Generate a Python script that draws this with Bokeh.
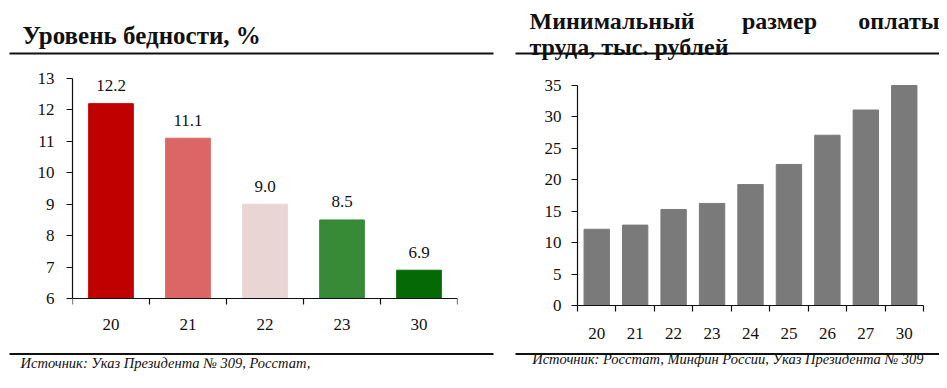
from bokeh.plotting import figure
from bokeh.models import Range1d, FixedTicker, ColumnDataSource, LinearAxis
from bokeh.layouts import column, row
from bokeh.embed import file_html
from bokeh.resources import INLINE
from bokeh.core.properties import value

# ---- data ----
poverty_years = ["20", "21", "22", "23", "30"]
poverty_values = [12.2, 11.1, 9.0, 8.5, 6.9]
poverty_labels = ["12.2", "11.1", "9.0", "8.5", "6.9"]
poverty_colors = ["#C00000", "#DC6666", "#EAD5D5", "#378B37", "#056A05"]
poverty_yticks = [6, 7, 8, 9, 10, 11, 12, 13]

mrot_years = ["20", "21", "22", "23", "24", "25", "26", "27", "30"]
mrot_values = [12.13, 12.79, 15.28, 16.24, 19.24, 22.44, 27.09, 31.1, 35.0]
mrot_yticks = [0, 5, 10, 15, 20, 25, 30, 35]

title_left = "Уровень бедности, %"
title_right_1 = ["Минимальный", "размер", "оплаты"]
title_right_2 = "труда, тыс. рублей"
source_left = "Источник: Указ Президента № 309, Росстат,"
source_right = "Источник: Росстат, Минфин России, Указ Президента № 309"

BODY = "Liberation Serif"
SERIF = value(BODY)
INK = "#111111"

W_TOTAL = 939
TOP_H = 64
BOT_Y0 = 348
BOT_H = 380 - BOT_Y0
CH_H = BOT_Y0 - TOP_H
FRAME_TOP = 78      # y of top of chart frames
FRAME_BOT = 305     # y of bottom of chart frames
LEFT_AXIS_Y = 298   # y of the left chart's category axis
RIGHT_TOP_Y = 85    # y of the right chart's top tick


def strip(h, y0):
    f = figure(width=W_TOTAL, height=h, frame_width=W_TOTAL, frame_height=h,
               output_backend="svg", toolbar_location=None, title=None,
               x_axis_location=None, y_axis_location=None,
               x_range=Range1d(0, W_TOTAL), y_range=Range1d(y0 + h, y0),
               min_border=0, min_border_left=0, min_border_right=0,
               min_border_top=0, min_border_bottom=0)
    f.grid.visible = False
    f.outline_line_color = None
    f.background_fill_color = "white"
    f.border_fill_color = "white"
    return f


# ---- top strip: titles + rules ----
top = strip(TOP_H, 0)
top.text(x=[22], y=[35], text=[title_left], text_font=SERIF, text_font_style="bold",
         text_font_size="25px", text_baseline="alphabetic", text_align="left", text_color=INK)
top.text(x=[529, 779, 939], y=[20, 20, 20], text=title_right_1, text_font=SERIF,
         text_font_style="bold", text_font_size="24px", text_baseline="alphabetic",
         text_align=["left", "center", "right"], text_color=INK)
top.text(x=[529], y=[46], text=[title_right_2], text_font=SERIF, text_font_style="bold",
         text_font_size="24px", text_baseline="alphabetic", text_align="left", text_color=INK)
top.segment(x0=[9, 515], y0=[53, 53], x1=[493, 939], y1=[53, 53],
            line_color=INK, line_width=1.8)

# ---- bottom strip: rules + sources ----
bot = strip(BOT_H, BOT_Y0)
bot.segment(x0=[9, 515], y0=[353.5, 353.5], x1=[493, 939], y1=[353.5, 353.5],
            line_color=INK, line_width=1.8)
bot.text(x=[20], y=[362], text=[source_left], text_font=SERIF, text_font_style="italic",
         text_font_size="14.5px", text_baseline="middle", text_align="left", text_color=INK)
bot.text(x=[923], y=[358], text=[source_right], text_font=SERIF, text_font_style="italic",
         text_font_size="14.5px", text_baseline="middle", text_align="right", text_color=INK)


def style_axes(p, fs, xstand, ystand):
    for ax in (p.xaxis[0], p.yaxis[0]):
        ax.axis_line_color = INK
        ax.axis_line_width = 1.2
        ax.major_label_text_font = BODY
        ax.major_label_text_color = INK
        ax.major_label_text_font_size = fs
    p.yaxis.major_tick_out = 6
    p.yaxis.major_tick_in = 0
    p.yaxis.major_tick_line_color = INK
    p.yaxis.major_tick_line_width = 1.2
    p.yaxis.minor_tick_line_color = None
    p.yaxis.major_label_standoff = ystand
    p.xaxis.major_tick_line_color = None
    p.xaxis.major_tick_out = 6
    p.xaxis.major_tick_in = 0
    p.xaxis.minor_tick_out = 6
    p.xaxis.minor_tick_in = 0
    p.xaxis.minor_tick_line_color = INK
    p.xaxis.minor_tick_line_width = 1.2
    p.xaxis.major_label_standoff = xstand
    p.grid.visible = False
    p.outline_line_color = None
    p.border_fill_color = "white"


FH = FRAME_BOT - FRAME_TOP
top_border = FRAME_TOP - TOP_H
bot_border = CH_H - top_border - FH

# ---- left chart ----
n1 = len(poverty_years)
y1_lo, y1_hi = poverty_yticks[0], poverty_yticks[-1]
ppu1 = (LEFT_AXIS_Y - FRAME_TOP) / (y1_hi - y1_lo)
xs1 = [i + 0.5 for i in range(n1)]
bounds1 = list(range(n1 + 1))
src1 = ColumnDataSource(dict(x=xs1, top=poverty_values, color=poverty_colors, lab=poverty_labels))
p1 = figure(width=480, height=CH_H, frame_width=385, frame_height=FH,
            output_backend="svg", toolbar_location=None, title=None,
            x_range=Range1d(0, n1),
            y_range=Range1d(y1_lo - (FRAME_BOT - LEFT_AXIS_Y) / ppu1, y1_hi),
            min_border_left=72, min_border_right=23,
            min_border_top=top_border, min_border_bottom=bot_border)
p1.vbar(x="x", top="top", bottom=y1_lo, width=0.58, color="color", source=src1)
p1.text(x="x", y="top", text="lab", source=src1, text_font=SERIF, text_font_size="17px",
        text_align="center", text_baseline="middle", y_offset=-18, text_color=INK)
p1.xaxis.ticker = FixedTicker(ticks=xs1)
p1.xaxis.major_label_overrides = {x: y for x, y in zip(xs1, poverty_years)}
p1.yaxis.ticker = FixedTicker(ticks=poverty_yticks)
p1.yaxis.bounds = (y1_lo, y1_hi)
style_axes(p1, "17px", 13, 12)
# category labels sit under the frame; the axis line and category ticks are drawn at y=6
p1.xaxis.axis_line_color = None
p1.xaxis.minor_tick_line_color = None
p1.xaxis.major_tick_out = 0
p1.xaxis.minor_tick_out = 0
base1 = LinearAxis(ticker=FixedTicker(ticks=[], minor_ticks=bounds1), fixed_location=y1_lo,
                   axis_line_color=INK, axis_line_width=1.2,
                   major_tick_line_color=None, major_tick_in=0, major_tick_out=0,
                   minor_tick_line_color=INK, minor_tick_line_width=1.2,
                   minor_tick_in=6, minor_tick_out=0,
                   major_label_text_font_size="0px")
p1.add_layout(base1, "above")

# ---- right chart ----
n2 = len(mrot_years)
y2_lo, y2_hi = mrot_yticks[0], mrot_yticks[-1]
ppu2 = (FRAME_BOT - RIGHT_TOP_Y) / (y2_hi - y2_lo)
xs2 = [i + 0.5 for i in range(n2)]
src2 = ColumnDataSource(dict(x=xs2, top=mrot_values))
p2 = figure(width=459, height=CH_H, frame_width=346, frame_height=FH,
            output_backend="svg", toolbar_location=None, title=None,
            x_range=Range1d(0, n2),
            y_range=Range1d(y2_lo, y2_hi + (RIGHT_TOP_Y - FRAME_TOP) / ppu2),
            min_border_left=97, min_border_right=16,
            min_border_top=top_border, min_border_bottom=bot_border)
p2.vbar(x="x", top="top", bottom=y2_lo, width=0.66, color="#7A7A7A", source=src2)
p2.xaxis.ticker = FixedTicker(ticks=xs2, minor_ticks=list(range(n2 + 1)))
p2.xaxis.major_label_overrides = {x: y for x, y in zip(xs2, mrot_years)}
p2.yaxis.ticker = FixedTicker(ticks=mrot_yticks)
p2.yaxis.bounds = (y2_lo, y2_hi)
style_axes(p2, "17px", 16, 10)

layout = column(top, row(p1, p2, spacing=0), bot, spacing=0)
open("out.html", "w").write(file_html(layout, INLINE))
